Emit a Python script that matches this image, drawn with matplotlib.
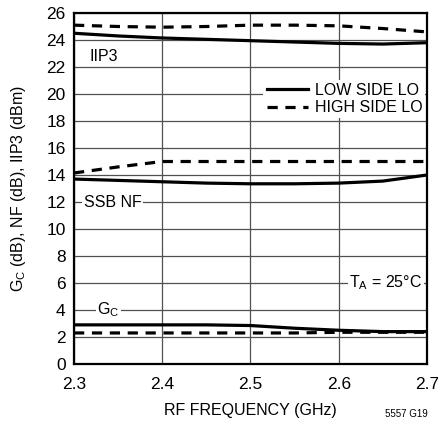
import numpy as np
import matplotlib
matplotlib.use('Agg')
import matplotlib.pyplot as plt

plt.rcParams['font.family'] = ['Liberation Sans Narrow', 'Liberation Sans', 'DejaVu Sans']

# DATA
freq = [2.3, 2.35, 2.4, 2.45, 2.5, 2.55, 2.6, 2.65, 2.7]

iip3_low = [24.5, 24.3, 24.15, 24.05, 23.95, 23.85, 23.75, 23.7, 23.8]
iip3_high = [25.1, 25.0, 24.95, 25.0, 25.1, 25.1, 25.05, 24.85, 24.6]

nf_low = [13.7, 13.6, 13.5, 13.4, 13.35, 13.35, 13.4, 13.55, 14.0]
nf_high = [14.15, 14.6, 15.0, 15.0, 15.0, 15.0, 15.0, 15.0, 15.0]

gc_low = [2.9, 2.9, 2.9, 2.9, 2.85, 2.65, 2.5, 2.4, 2.4]
gc_high = [2.3, 2.3, 2.3, 2.3, 2.3, 2.3, 2.35, 2.35, 2.35]

fig = plt.figure(figsize=(4.39, 4.25), dpi=100)
ax = fig.add_axes([0.1686, 0.1435, 0.804, 0.8259])

lw = 2.3
dash = (0, (3.2, 2.4))
ax.plot(freq, iip3_low, color='black', lw=lw, label='LOW SIDE LO')
ax.plot(freq, iip3_high, color='black', lw=lw, ls=dash, label='HIGH SIDE LO')
ax.plot(freq, nf_low, color='black', lw=lw)
ax.plot(freq, nf_high, color='black', lw=lw, ls=dash)
ax.plot(freq, gc_low, color='black', lw=lw)
ax.plot(freq, gc_high, color='black', lw=lw, ls=dash)

ax.set_xlim(2.3, 2.7)
ax.set_ylim(0, 26)
ax.set_xticks([2.3, 2.4, 2.5, 2.6, 2.7])
ax.set_yticks(range(0, 27, 2))
ax.grid(True, color='#505050', lw=0.9)
ax.set_axisbelow(True)
ax.tick_params(length=0, labelsize=12.5)
ax.tick_params(axis='y', pad=6)
ax.tick_params(axis='x', pad=9)
for s in ax.spines.values():
    s.set_linewidth(1.6)

ax.set_xlabel('RF FREQUENCY (GHz)', fontsize=11.5, labelpad=8)
ax.set_ylabel('G$_\\mathregular{C}$ (dB), NF (dB), IIP3 (dBm)', fontsize=11.5, labelpad=13)

bb = dict(facecolor='white', edgecolor='none', pad=1)
ax.text(2.318, 22.75, 'IIP3', fontsize=11.5, bbox=bb, va='center')
ax.text(2.311, 12.0, 'SSB NF', fontsize=11.5, bbox=bb, va='center')
ax.text(2.326, 4.0, 'G$_\\mathregular{C}$', fontsize=11.5, bbox=bb, va='center')
ax.text(2.612, 6.0, 'T$_\\mathregular{A}$ = 25°C', fontsize=11.5, bbox=bb, va='center')

leg = ax.legend(loc='upper right', bbox_to_anchor=(1.0, 0.815), frameon=True,
                fontsize=11.5, handlelength=2.6, handletextpad=0.4,
                borderpad=0.2, labelspacing=0.15, borderaxespad=0.1)
leg.get_frame().set_edgecolor('none')
leg.get_frame().set_facecolor('white')
leg.get_frame().set_alpha(1)

fig.text(0.975, 0.015, '5557 G19', fontsize=7, ha='right', va='bottom')

fig.savefig('out.png', dpi=100)
